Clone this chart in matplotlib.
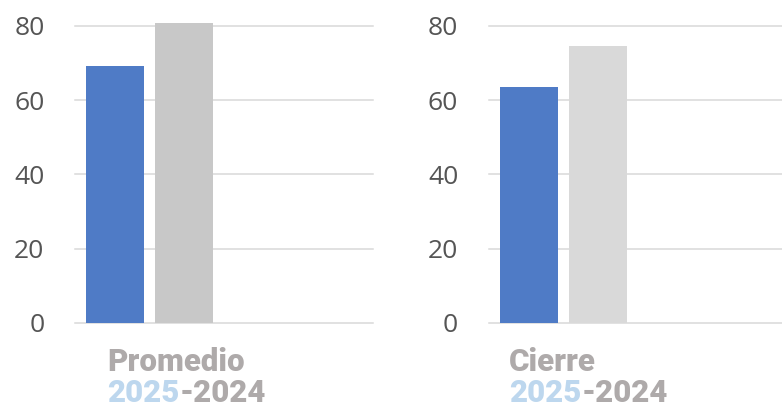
import matplotlib
matplotlib.use('Agg')
import matplotlib.pyplot as plt

# data
categories = ['Promedio', 'Cierre']
values_2025 = [69.1, 63.4]
values_2024 = [80.7, 74.5]
color_2025 = '#4f7bc6'
colors_2024 = ['#c8c8c8', '#d9d9d9']

label_font = 'Roboto'
tick_font = 'Open Sans'

fig = plt.figure(figsize=(7.82, 4.09), dpi=100)
W, H = 782, 409

axes_left_px = [75, 488.7]
text_left_px = [107, 509]

for i, cat in enumerate(categories):
    ax = fig.add_axes([axes_left_px[i] / W, 86 / H, 298 / W, 297.3 / H])
    ax.bar([-0.2315], [values_2025[i]], width=0.389, color=color_2025, clip_on=False, zorder=3)
    ax.bar([0.2315], [values_2024[i]], width=0.389, color=colors_2024[i], clip_on=False, zorder=3)
    ax.set_xlim(-0.5, 1.5)
    ax.set_ylim(0, 80)
    ax.set_yticks([0, 20, 40, 60, 80])
    ax.set_xticks([])
    ax.grid(axis='y', color='#d9d9d9', linewidth=1.1, zorder=0)
    for gl in ax.get_ygridlines():
        gl.set_clip_on(False)
    ax.set_axisbelow(True)
    for s in ax.spines.values():
        s.set_visible(False)
    ax.tick_params(axis='y', length=0, pad=22, labelsize=19, labelcolor='#555555')
    for lbl in ax.get_yticklabels():
        lbl.set_fontfamily(tick_font)

    # labels below each panel
    x0 = text_left_px[i] / W
    fig.text(x0, 38 / H, cat, fontsize=22.5, fontweight='black', color='#aeaaaa',
             family=label_font, va='baseline', ha='left')
    t1 = fig.text(x0, 7 / H, '2025', fontsize=22.5, fontweight='black', color='#bdd7ee',
                  family=label_font, va='baseline', ha='left')
    r = fig.canvas.get_renderer()
    bb = t1.get_window_extent(renderer=r)
    fig.text(bb.x1 / W, 7 / H, '-2024', fontsize=22.5, fontweight='black', color='#aeaaaa',
             family=label_font, va='baseline', ha='left')

fig.savefig('out.png', dpi=100)
